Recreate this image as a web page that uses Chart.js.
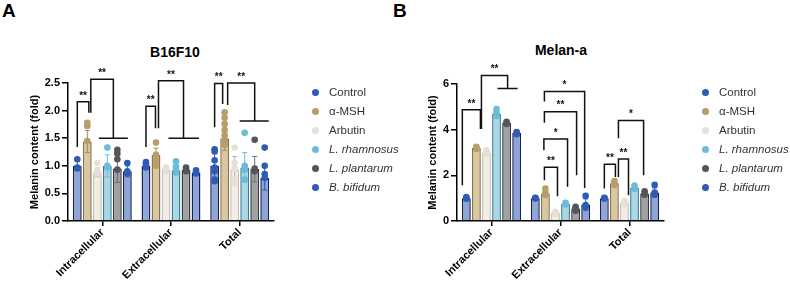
<!DOCTYPE html>
<html>
<head>
<meta charset="utf-8">
<script src="https://cdn.jsdelivr.net/npm/chart.js@4.4.1/dist/chart.umd.min.js"></script>
<style>
  body { margin: 0; background: #fff; width: 790px; height: 283px; position: relative; overflow: hidden; font-family: Arial, "Liberation Sans", sans-serif; }
  .box { position: absolute; top: 0; width: 395px; height: 283px; }
  .letter { position: absolute; top: 0; font-weight: bold; font-size: 19px; color: #000; }
  .title { position: absolute; font-weight: bold; font-size: 14px; color: #000; transform: translate(-50%, -50%); white-space: nowrap; }
  .legend { position: absolute; top: 83px; font-size: 11.5px; color: #333; }
  .legend div { position: relative; height: 19px; line-height: 19px; padding-left: 17px; white-space: nowrap; }
  .legend span { position: absolute; left: 0; top: 6px; width: 7px; height: 7px; border-radius: 50%; }
  .legend i { font-style: italic; }
</style>
</head>
<body>
<div class="letter" style="left:2px">A</div>
<div class="letter" style="left:393px">B</div>
<div class="title" style="left:175px;top:52px">B16F10</div>
<div class="title" style="left:561px;top:50px">Melan-a</div>
<div class="box" style="left:0"><canvas id="chartA" width="395" height="283"></canvas></div>
<div class="box" style="left:395px"><canvas id="chartB" width="395" height="283"></canvas></div>
<div class="legend" id="legA" style="left:312px"></div>
<div class="legend" id="legB" style="left:702px"></div>

<script>
const categories = ['Intracellular', 'Extracellular', 'Total'];
const groups = ['Control', 'α-MSH', 'Arbutin', 'L. rhamnosus', 'L. plantarum', 'B. bifidum'];
const italicGroup = [false, false, false, true, true, true];

const barFill   = ['#91a6d8', '#d9c7a3', '#f1ede7', '#a9d7e6', '#a0a1a3', '#8ea4d9'];
const barEdge   = ['#17244f', '#8c7243', '#c9c1b5', '#3d7d93', '#36383b', '#13224f'];
const dotColor  = ['#2d5bb5', '#b89c6b', '#e6e0d6', '#6bbcd8', '#53565a', '#2d5bb5'];
const whiskerColor = ['#2d5bb5', '#a68a5a', '#b8b2a8', '#6bbcd8', '#6b6e72', '#2d5bb5'];

// ---- B16F10 (panel A) ----
const aMeans = [
  [1.00, 1.00, 1.00],
  [1.44, 1.20, 1.50],
  [0.88, 0.93, 0.93],
  [1.00, 0.92, 0.97],
  [0.95, 0.93, 0.94],
  [0.90, 0.88, 0.78]
];
const aSd = [
  [0.08, 0.05, 0.22],
  [0.20, 0.12, 0.22],
  [0.08, 0.04, 0.24],
  [0.20, 0.08, 0.27],
  [0.25, 0.05, 0.23],
  [0.10, 0.03, 0.22]
];
const aPoints = [
  [[1.12, 0.97, 0.95], [1.07, 1.04, 1.00, 0.97], [1.30, 1.26, 1.10, 0.97, 0.90, 0.75, 0.72]],
  [[1.78, 1.72, 1.45], [1.42, 1.20, 1.10, 1.00], [1.97, 1.87, 1.76, 1.65, 1.55, 1.45, 1.38]],
  [[1.05, 0.90, 0.86], [0.97, 0.93, 0.90], [1.33, 1.05, 0.95, 0.75, 0.68]],
  [[1.33, 1.00, 0.97], [1.08, 0.98, 0.92, 0.88], [1.60, 1.00, 0.93, 0.75]],
  [[1.29, 1.22, 1.12, 0.93], [0.97, 0.93, 0.90], [1.47, 0.95, 0.90]],
  [[1.05, 0.90, 0.86], [0.92, 0.88, 0.86], [1.33, 1.00, 0.85, 0.78]]
];
// [category, fromBar, toBar, top, leftEnd, rightEnd, label, spanFrom, spanTo]
const aBrackets = [
  [0, 0.0, 1.15, 2.16, 1.34, 1.96, '**'],
  [0, 1.35, 3.6, 2.57, 1.96, 1.50, '**', 2.15, 5.05],
  [1, 0.0, 0.95, 2.08, 1.34, 1.68, '**'],
  [1, 1.25, 3.75, 2.54, 1.68, 1.50, '**', 2.25, 5.3],
  [2, 0.0, 0.8, 2.49, 1.70, 2.12, '**'],
  [2, 1.3, 4.0, 2.50, 2.10, 1.81, '**', 2.5, 5.4]
];
const aTicks = [0, 0.5, 1.0, 1.5, 2.0, 2.5];

// ---- Melan-a (panel B) ----
const bMeans = [
  [1.00, 1.00, 1.00],
  [3.20, 1.20, 1.65],
  [3.00, 0.35, 0.80],
  [4.70, 0.75, 1.45],
  [4.30, 0.55, 1.20],
  [3.85, 0.72, 1.25]
];
const bSd = [
  [0.04, 0.03, 0.03],
  [0.06, 0.14, 0.09],
  [0.08, 0.05, 0.07],
  [0.15, 0.05, 0.08],
  [0.06, 0.09, 0.08],
  [0.06, 0.25, 0.20]
];
const bPoints = [
  [[1.05, 1.00, 0.97], [1.02, 1.00, 0.98], [1.02, 1.00, 0.98]],
  [[3.25, 3.20, 3.15], [1.42, 1.25, 1.15], [1.75, 1.65, 1.58]],
  [[3.10, 3.00, 2.95], [0.40, 0.35, 0.32], [0.88, 0.80, 0.75]],
  [[4.90, 4.75, 4.60], [0.80, 0.75, 0.72], [1.55, 1.45, 1.40]],
  [[4.35, 4.30, 4.25], [0.62, 0.55, 0.45], [1.30, 1.20, 1.15]],
  [[3.90, 3.85, 3.80], [1.10, 0.70, 0.60], [1.58, 1.25, 1.15]]
];
const bBrackets = [
  [0, -0.4, 1.4, 4.87, 1.57, 4.03, '**'],
  [0, 1.5, 4.1, 6.37, 4.03, 5.80, '**', 3.1, 5.1],
  [1, 0.9, 2.2, 2.35, 1.79, 1.08, '**'],
  [1, 0.85, 3.2, 3.59, 3.10, 1.50, '*'],
  [1, 0.9, 4.1, 4.79, 4.30, 2.00, '**'],
  [1, 0.9, 4.9, 5.67, 5.23, 1.44, '*'],
  [2, 0.0, 1.1, 2.49, 1.42, 1.93, '**'],
  [2, 1.4, 2.4, 2.71, 1.93, 1.13, '**'],
  [2, 1.4, 3.9, 4.40, 3.62, 2.00, '*']
];
const bTicks = [0, 2, 4, 6];

const fontFamily = 'Arial, "Liberation Sans", sans-serif';

// error bars, dots and significance brackets, placed through the chart's own scales
const overlay = {
  id: 'overlay',
  afterDatasetsDraw(chart, args, opts) {
    const ctx = chart.ctx;
    const y = chart.scales.y;
    const barX = (cat, idx) => {
      const lo = Math.max(0, Math.min(4, Math.floor(idx)));
      const a = chart.getDatasetMeta(lo).data[cat].x;
      const b = chart.getDatasetMeta(lo + 1).data[cat].x;
      return a + (b - a) * (idx - lo);
    };
    ctx.save();
    // whiskers
    opts.sd.forEach((arr, i) => {
      arr.forEach((s, j) => {
        const x = barX(j, i);
        const m = opts.means[i][j];
        const y1 = y.getPixelForValue(m - s), y2 = y.getPixelForValue(m + s);
        ctx.strokeStyle = whiskerColor[i];
        ctx.lineWidth = 1;
        ctx.beginPath();
        ctx.moveTo(x, y1); ctx.lineTo(x, y2);
        ctx.moveTo(x - 2.5, y1); ctx.lineTo(x + 2.5, y1);
        ctx.moveTo(x - 2.5, y2); ctx.lineTo(x + 2.5, y2);
        ctx.stroke();
      });
    });
    // replicate dots
    opts.points.forEach((cats, i) => {
      cats.forEach((vals, j) => {
        const x = barX(j, i);
        ctx.fillStyle = dotColor[i];
        vals.forEach(v => {
          ctx.beginPath();
          ctx.arc(x, y.getPixelForValue(v), 3.3, 0, Math.PI * 2);
          ctx.fill();
        });
      });
    });
    // brackets
    ctx.strokeStyle = '#111';
    ctx.fillStyle = '#111';
    ctx.lineWidth = 1.5;
    ctx.font = 'bold 10px ' + fontFamily;
    ctx.textAlign = 'center';
    ctx.textBaseline = 'bottom';
    opts.brackets.forEach(b => {
      const [cat, f, t, top, l, r, label, s1, s2] = b;
      const x1 = barX(cat, f), x2 = barX(cat, t);
      const yt = y.getPixelForValue(top);
      ctx.beginPath();
      ctx.moveTo(x1, y.getPixelForValue(l));
      ctx.lineTo(x1, yt);
      ctx.lineTo(x2, yt);
      ctx.lineTo(x2, y.getPixelForValue(r));
      if (s1 !== undefined) {
        ctx.moveTo(barX(cat, s1), y.getPixelForValue(r));
        ctx.lineTo(barX(cat, s2), y.getPixelForValue(r));
      }
      ctx.stroke();
      ctx.fillText(label, (x1 + x2) / 2, yt - 1);
    });
    ctx.restore();
  }
};

function makeChart(id, means, sd, points, brackets, ticks, opt) {
  const axisFont = { family: fontFamily, size: 11, weight: 'bold' };
  return new Chart(document.getElementById(id), {
    type: 'bar',
    data: {
      labels: categories,
      datasets: groups.map((g, i) => ({
        label: g,
        data: means[i],
        backgroundColor: barFill[i],
        borderColor: barEdge[i],
        borderWidth: 1.5,
        borderSkipped: 'bottom',
        barPercentage: 0.88,
        categoryPercentage: 0.875
      }))
    },
    options: {
      responsive: false,
      animation: false,
      events: [],
      layout: { padding: { left: 0, right: opt.right, top: opt.top, bottom: 0 } },
      plugins: {
        legend: { display: false },
        tooltip: { enabled: false },
        overlay: { means, sd, points, brackets }
      },
      scales: {
        x: {
          offset: true,
          grid: { display: true, drawOnChartArea: false, offset: false, color: '#000', lineWidth: 1.5, tickLength: 5 },
          border: { color: '#000', width: 1.5 },
          ticks: { color: '#000', font: axisFont, maxRotation: 45, minRotation: 45, padding: 0 },
          afterFit: s => { s.height = 62; }
        },
        y: {
          min: 0,
          max: ticks[ticks.length - 1],
          afterBuildTicks: s => { s.ticks = ticks.map(v => ({ value: v })); },
          grid: { display: true, drawOnChartArea: false, color: '#000', lineWidth: 1.5, tickLength: 6 },
          border: { color: '#000', width: 1.5 },
          ticks: { color: '#000', font: axisFont, padding: 2, callback: v => v.toFixed(opt.dec) },
          title: { display: true, text: 'Melanin content (fold)', color: '#000', font: axisFont, padding: { top: opt.titlePad, bottom: 0 } },
          afterFit: s => { s.width = opt.left; }
        }
      }
    },
    plugins: [overlay]
  });
}

makeChart('chartA', aMeans, aSd, aPoints, aBrackets, aTicks, { left: 68, right: 121, top: 83, dec: 1, titlePad: 28 });
makeChart('chartB', bMeans, bSd, bPoints, bBrackets, bTicks, { left: 62, right: 126, top: 84, dec: 0, titlePad: 31 });

function buildLegend(id) {
  const el = document.getElementById(id);
  groups.forEach((g, i) => {
    const row = document.createElement('div');
    const dot = document.createElement('span');
    dot.style.background = dotColor[i];
    row.appendChild(dot);
    const txt = document.createElement(italicGroup[i] ? 'i' : 'b');
    if (!italicGroup[i]) txt.style.fontWeight = 'normal';
    txt.textContent = g;
    row.appendChild(txt);
    el.appendChild(row);
  });
}
buildLegend('legA');
buildLegend('legB');
</script>
</body>
</html>
